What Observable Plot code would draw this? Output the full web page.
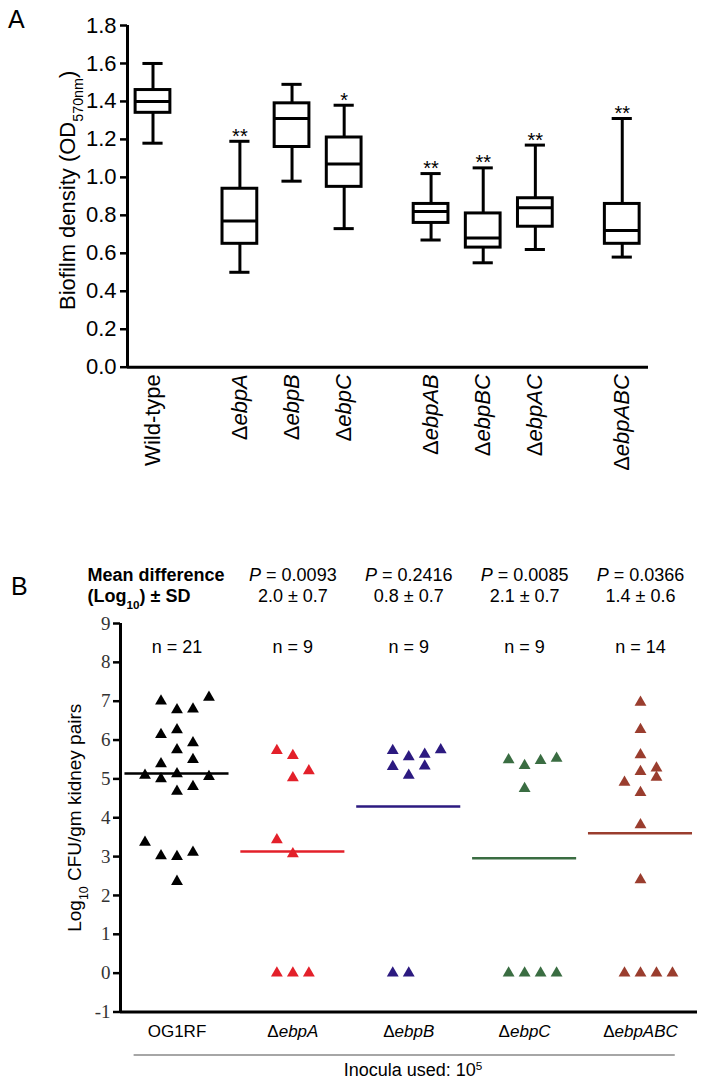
<!DOCTYPE html>
<html><head><meta charset="utf-8">
<script src="https://cdn.jsdelivr.net/npm/d3@7"></script>
<script src="https://cdn.jsdelivr.net/npm/@observablehq/plot@0.6"></script>
<style>
body{margin:0;background:#fff;}
#wrap{position:relative;width:715px;height:1082px;overflow:hidden;background:#fff;font-family:"Liberation Sans",Arial,sans-serif;}
#wrap svg{position:absolute;left:0;}
.panel{position:absolute;font-size:25px;line-height:25px;color:#000;}
</style></head><body><div id="wrap"></div>
<script>
// ---------- Panel A data (biofilm density, box plots) ----------
const strainsA = ["Wild-type","Δ*ebpA*","Δ*ebpB*","Δ*ebpC*","Δ*ebpAB*","Δ*ebpBC*","Δ*ebpAC*","Δ*ebpABC*"];
const slotsA = [0,5,8,11,16,19,22,27];          // grouping gaps along the axis
const whiskerLowA  = [1.18,0.50,0.98,0.73,0.67,0.55,0.62,0.58];
const q1A          = [1.34,0.65,1.16,0.95,0.76,0.63,0.74,0.65];
const medianA      = [1.40,0.77,1.31,1.07,0.82,0.68,0.84,0.72];
const q3A          = [1.46,0.94,1.39,1.21,0.86,0.81,0.89,0.86];
const whiskerHighA = [1.60,1.19,1.49,1.38,1.02,1.05,1.17,1.31];
const signifA      = ["","**","","*","**","**","**","**"];
const yTicksA = [0,0.2,0.4,0.6,0.8,1.0,1.2,1.4,1.6,1.8];

// ---------- Panel B data (Log10 CFU/gm kidney pairs) ----------
const groupsB = ["OG1RF","Δ*ebpA*","Δ*ebpB*","Δ*ebpC*","Δ*ebpABC*"];
const colorsB = ["#000000","#e3202a","#2c1a80","#3a6d42","#9a3d2e"];
const pValuesB = [null,"0.0093","0.2416","0.0085","0.0366"];
const meanDiffB = [null,"2.0 ± 0.7","0.8 ± 0.7","2.1 ± 0.7","1.4 ± 0.6"];
const nB = [21,9,9,9,14];
const medianB = [5.14,3.13,4.29,2.96,3.60];
const og1rfCFU  = [7.00,6.78,6.80,7.10,6.14,6.26,5.93,5.75,5.39,5.50,5.09,5.00,5.13,5.06,4.68,4.80,3.37,3.02,3.00,3.11,2.36];
const og1rfCol  = [-1,0,1,2,-1,0,1,0,-1,1,-2,-1,0,2,0,1,-2,-1,0,1,0];
const ebpACFU   = [5.73,5.60,5.21,5.03,3.43,3.07,0,0,0];
const ebpACol   = [-1,0,1,0,-1,0,-1,0,1];
const ebpBCFU   = [5.73,5.57,5.63,5.75,5.32,5.33,5.09,0,0];
const ebpBCol   = [-1,0,1,2,-1,1,0,-1,0];
const ebpCCFU   = [5.49,5.34,5.47,5.53,4.75,0,0,0,0];
const ebpCCol   = [-1,0,1,2,0,-1,0,1,2];
const ebpABCCFU = [6.97,6.27,5.62,5.28,5.19,5.04,4.91,4.65,3.82,2.40,0,0,0,0];
const ebpABCCol = [0,0,0,1,0,1,-1,0,0,0,-1,0,1,2];
const yTicksB = [-1,0,1,2,3,4,5,6,7,8,9];

const SANS = "Liberation Sans, Arial, sans-serif";
const SERIF = "Liberation Serif, Times New Roman, serif";

// rich text: _{sub} ^{sup} *italic*
function enrich(svg) {
  const pat = /(_\{[^}]*\}|\^\{[^}]*\}|\*[^*]+\*)/g;
  d3.select(svg).selectAll("text").each(function() {
    if (this.querySelector("tspan")) return;
    const s = this.textContent;
    if (!new RegExp(pat.source).test(s)) return;
    const parts = s.split(pat).filter(p => p !== "");
    this.textContent = "";
    const el = d3.select(this);
    for (const p of parts) {
      if (p.startsWith("_{")) el.append("tspan").attr("baseline-shift","sub").attr("font-size","0.65em").text(p.slice(2,-1));
      else if (p.startsWith("^{")) el.append("tspan").attr("baseline-shift","super").attr("font-size","0.65em").text(p.slice(2,-1));
      else if (p.startsWith("*")) el.append("tspan").attr("font-style","italic").text(p.slice(1,-1));
      else el.append("tspan").text(p);
    }
  });
}

const wrap = document.getElementById("wrap");

// ---------- Panel A ----------
const rowsA = strainsA.map((s,i) => ({s, slot: slotsA[i], lo: whiskerLowA[i], q1: q1A[i], med: medianA[i], q3: q3A[i], hi: whiskerHighA[i], sig: signifA[i]}));
const xDomA = [-1.467, 28.51];
const boxHalf = 1.0, capHalf = 0.58;
const plotA = Plot.plot({
  width: 715, height: 490,
  marginTop: 25, marginBottom: 123.3, marginLeft: 127, marginRight: 67,
  style: {fontFamily: SANS, fontSize: "22px", color: "#000", background: "transparent"},
  x: {type: "linear", domain: xDomA},
  y: {domain: [0, 1.8]},
  marks: [
    Plot.axisY(yTicksA, {tickSize: 7, tickPadding: 4, strokeWidth: 2.5, tickFormat: d => d.toFixed(1), fontSize: 22, label: null}),
    Plot.axisX(slotsA, {tickSize: 0, tickPadding: 7, tickRotate: -90, tickFormat: d => strainsA[slotsA.indexOf(d)], fontSize: 22, label: null}),
    Plot.ruleX(rowsA, {x: "slot", y1: "lo", y2: "q1", strokeWidth: 3}),
    Plot.ruleX(rowsA, {x: "slot", y1: "q3", y2: "hi", strokeWidth: 3}),
    Plot.rect(rowsA, {x1: d => d.slot - boxHalf, x2: d => d.slot + boxHalf, y1: "q1", y2: "q3", fill: "none", stroke: "#000", strokeWidth: 3}),
    Plot.ruleY(rowsA, {y: "med", x1: d => d.slot - boxHalf, x2: d => d.slot + boxHalf, strokeWidth: 3}),
    Plot.ruleY(rowsA, {y: "lo", x1: d => d.slot - capHalf, x2: d => d.slot + capHalf, strokeWidth: 3}),
    Plot.ruleY(rowsA, {y: "hi", x1: d => d.slot - capHalf, x2: d => d.slot + capHalf, strokeWidth: 3}),
    Plot.text(rowsA, {x: "slot", y: "hi", text: "sig", dy: -5, fontSize: 20}),
    Plot.ruleX([xDomA[0]], {strokeWidth: 3}),
    Plot.ruleY([0], {strokeWidth: 3}),
    Plot.text(["Biofilm density (OD_{570nm})"], {frameAnchor: "left", textAnchor: "middle", lineAnchor: "middle", dx: -60, dy: -6, rotate: -90, fontSize: 22})
  ]
});
plotA.style.top = "0px";
enrich(plotA);
wrap.appendChild(plotA);

// ---------- Panel B ----------
const cfuB = [og1rfCFU, ebpACFU, ebpBCFU, ebpCCFU, ebpABCCFU];
const colB = [og1rfCol, ebpACol, ebpBCol, ebpCCol, ebpABCCol];
const pointsB = cfuB.flatMap((vals, g) => vals.map((v, k) => ({g, v, col: colB[g][k]})));
const groupRowsB = groupsB.map((name, g) => ({g, name, p: pValuesB[g], md: meanDiffB[g], n: nB[g], m: medianB[g], c: colorsB[g]}));
const xDomB = [-0.4875, 4.492];
const colStep = 0.138, lineHalf = 0.449;
const mid = {lineAnchor: "middle"};
const plotB = Plot.plot({
  width: 715, height: 562,
  marginTop: 103, marginBottom: 70.5, marginLeft: 120, marginRight: 18,
  style: {fontFamily: SANS, fontSize: "17px", color: "#000", background: "transparent"},
  x: {type: "linear", domain: xDomB},
  y: {domain: [-1, 9]},
  color: {type: "identity"},
  marks: [
    Plot.axisY(yTicksB, {tickSize: 7, tickPadding: 3, strokeWidth: 2.5, tickFormat: d => String(d), fontFamily: SERIF, fontSize: 19, fill: "#333", label: null}),
    Plot.axisX(d3.range(groupsB.length), {tickSize: 0, tickPadding: 13, tickFormat: i => groupsB[i], fontSize: 17, label: null}),
    Plot.ruleY(groupRowsB, {y: "m", x1: d => d.g - lineHalf, x2: d => d.g + lineHalf, stroke: "c", strokeWidth: 2.5}),
    Plot.dot(pointsB, {x: d => d.g + d.col * colStep, y: "v", symbol: "triangle", r: 4.4, fill: d => colorsB[d.g], stroke: "none"}),
    Plot.ruleX([xDomB[0]], {strokeWidth: 3}),
    Plot.ruleY([-1], {strokeWidth: 3}),
    Plot.text(groupRowsB.filter(d => d.p), {x: "g", text: d => `*P* = ${d.p}`, frameAnchor: "top", ...mid, dy: -48, fontSize: 18}),
    Plot.text(groupRowsB.filter(d => d.md), {x: "g", text: "md", frameAnchor: "top", ...mid, dy: -27, fontSize: 18}),
    Plot.text(groupRowsB, {x: "g", text: d => `n = ${d.n}`, frameAnchor: "top", ...mid, dy: 24, fontSize: 18}),
    Plot.text(["Mean difference"], {frameAnchor: "top-left", ...mid, dx: -33, dy: -48, textAnchor: "start", fontWeight: "bold", fontSize: 18}),
    Plot.text(["(Log_{10}) ± SD"], {frameAnchor: "top-left", ...mid, dx: -33, dy: -27, textAnchor: "start", fontWeight: "bold", fontSize: 18}),
    Plot.text(["Log_{10} CFU/gm kidney pairs"], {frameAnchor: "left", textAnchor: "middle", ...mid, dx: -46, rotate: -90, fontSize: 19}),
    Plot.ruleY([-1], {x1: -0.37, x2: groupsB.length - 1 + 0.3, dy: 43, stroke: "#888", strokeWidth: 1.5}),
    Plot.text(["Inocula used: 10^{5}"], {frameAnchor: "bottom", ...mid, dx: 4, dy: 58, fontSize: 18})
  ]
});
plotB.style.top = "520px";
enrich(plotB);
wrap.appendChild(plotB);

// panel letters
for (const [t, left, top] of [["A", 8, 6.7], ["B", 11, 573.7]]) {
  const d = document.createElement("div");
  d.className = "panel"; d.textContent = t;
  d.style.left = left + "px"; d.style.top = top + "px";
  wrap.appendChild(d);
}
</script>
</body></html>
